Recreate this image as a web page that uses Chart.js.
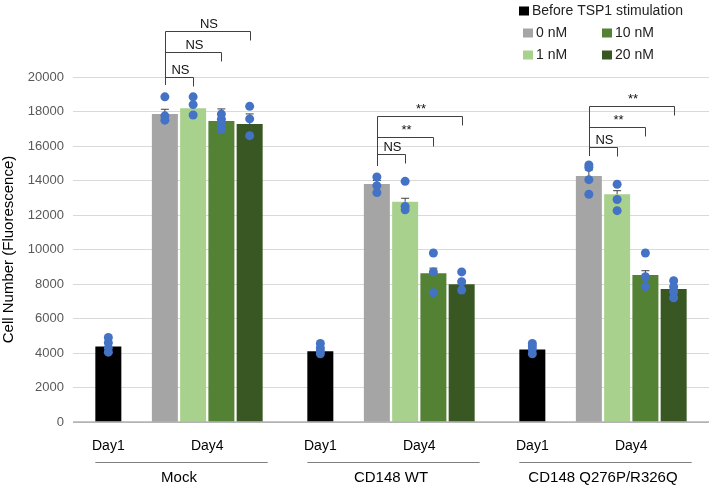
<!DOCTYPE html>
<html>
<head>
<meta charset="utf-8">
<script src="https://cdn.jsdelivr.net/npm/chart.js@4"></script>
<style>
  html, body { margin: 0; padding: 0; background: #fff; }
  #wrap { position: relative; width: 709px; height: 486px; }
</style>
</head>
<body>
<div id="wrap"><canvas id="chart"></canvas></div>
<script>
// groups along the x axis
const groups = ['Mock', 'CD148 WT', 'CD148 Q276P/R326Q'];
const dayLabels = ['Day1', 'Day4'];
const seriesNames = ['Before TSP1 stimulation', '0 nM', '1 nM', '10 nM', '20 nM'];
const seriesColors = ['#000000', '#a5a5a5', '#a9d18e', '#548235', '#385723'];

// bar heights (means)
const before = [4370, 4100, 4200];
const nm0 = [17860, 13800, 14260];
const nm1 = [18190, 12770, 13200];
const nm10 = [17450, 8620, 8520];
const nm20 = [17280, 7980, 7710];

// error bars (plus side)
const beforeErr = [180, 150, 150];
const nm0Err = [270, 200, 350];
const nm1Err = [150, 200, 210];
const nm10Err = [700, 300, 250];
const nm20Err = [580, 200, 150];

// single measurements (blue dots)
const beforePts = [[4900, 4600, 4300, 4050], [4550, 4300, 4100, 3950], [4550, 4400, 4200, 3950]];
const nm0Pts = [[18850, 17750, 17500], [14200, 13700, 13300], [14900, 14750, 14050, 13200]];
const nm1Pts = [[18850, 18400, 17800], [13950, 12500, 12300], [13780, 12900, 12250]];
const nm10Pts = [[17850, 17550, 17280, 16950], [9800, 8700, 7500], [9800, 8420, 7850]];
const nm20Pts = [[18300, 17570, 16600], [8700, 8130, 7650], [8190, 7840, 7550, 7200]];

// significance brackets: 0 nM vs 1, 10, 20 nM
const sigLabels = [['NS', 'NS', 'NS'], ['NS', '**', '**'], ['NS', '**', '**']];
const bracketHeights = [[20020, 21470, 22690], [15520, 16540, 17740], [15920, 17120, 18340]];
const bracketBase = [19540, 14840, 15420];

const yMin = 0;
const yMax = 20000;
const yStep = 2000;

const means = [before, nm0, nm1, nm10, nm20];
const errs = [beforeErr, nm0Err, nm1Err, nm10Err, nm20Err];
const pts = [beforePts, nm0Pts, nm1Pts, nm10Pts, nm20Pts];

// dataset 1 is an empty slot between Day1 and Day4
const datasetIndex = s => (s === 0 ? 0 : s + 1);

const datasets = [];
means.forEach((values, s) => {
  datasets.push({
    label: seriesNames[s],
    data: values,
    backgroundColor: seriesColors[s]
  });
  if (s === 0) {
    datasets.push({ label: '', data: groups.map(() => null), backgroundColor: 'transparent' });
  }
});

const FONT = '"Liberation Sans", Arial, sans-serif';

const overlay = {
  id: 'overlay',
  afterDatasetsDraw(chart) {
    const ctx = chart.ctx;
    const area = chart.chartArea;
    const y = chart.scales.y;
    const barOf = (s, g) => chart.getDatasetMeta(datasetIndex(s)).data[g];

    ctx.save();

    // axis line on top of bars
    ctx.strokeStyle = 'rgba(150,150,150,0.55)';
    ctx.lineWidth = 2;
    ctx.beginPath();
    ctx.moveTo(area.left, area.bottom);
    ctx.lineTo(area.right, area.bottom);
    ctx.stroke();

    // error bars
    ctx.strokeStyle = '#404040';
    ctx.lineWidth = 1;
    means.forEach((values, s) => {
      values.forEach((v, g) => {
        const bar = barOf(s, g);
        const top = y.getPixelForValue(v + errs[s][g]);
        ctx.beginPath();
        ctx.moveTo(bar.x, bar.y);
        ctx.lineTo(bar.x, top);
        ctx.moveTo(bar.x - 4, top);
        ctx.lineTo(bar.x + 4, top);
        ctx.stroke();
      });
    });

    // dots
    ctx.fillStyle = '#4472c4';
    pts.forEach((series, s) => {
      series.forEach((list, g) => {
        const bar = barOf(s, g);
        list.forEach(v => {
          ctx.beginPath();
          ctx.arc(bar.x, y.getPixelForValue(v), 4.5, 0, Math.PI * 2);
          ctx.fill();
        });
      });
    });

    // Day labels and underline
    ctx.fillStyle = '#000';
    ctx.font = '14px ' + FONT;
    ctx.textAlign = 'center';
    ctx.textBaseline = 'middle';
    groups.forEach((name, g) => {
      const b0 = barOf(0, g);
      const b1 = barOf(1, g);
      const b4 = barOf(4, g);
      ctx.fillText(dayLabels[0], b0.x, area.bottom + 24);
      ctx.fillText(dayLabels[1], (b1.x + b4.x) / 2, area.bottom + 24);
      ctx.strokeStyle = '#7f7f7f';
      ctx.lineWidth = 1;
      ctx.beginPath();
      ctx.moveTo(b0.x - b0.width / 2, area.bottom + 40.5);
      ctx.lineTo(b4.x + b4.width / 2 + 5, area.bottom + 40.5);
      ctx.stroke();
    });

    // significance brackets
    ctx.strokeStyle = '#404040';
    ctx.lineWidth = 1;
    ctx.font = '13px ' + FONT;
    ctx.textBaseline = 'alphabetic';
    groups.forEach((name, g) => {
      const lx = Math.round(barOf(1, g).x) + 0.5;
      const base = y.getPixelForValue(bracketBase[g]);
      bracketHeights[g].forEach((h, k) => {
        const rx = Math.round(barOf(k + 2, g).x) + 0.5;
        const ty = Math.round(y.getPixelForValue(h)) + 0.5;
        ctx.beginPath();
        ctx.moveTo(lx, base);
        ctx.lineTo(lx, ty);
        ctx.lineTo(rx, ty);
        ctx.lineTo(rx, ty + 9);
        ctx.stroke();
        ctx.fillStyle = '#111';
        ctx.fillText(sigLabels[g][k], (lx + rx) / 2 + 1, ty - 4);
      });
    });

    // legend
    const legendPos = [[519, 11], [523, 33], [523, 55], [602, 33], [602, 55]];
    ctx.font = '14px ' + FONT;
    ctx.textAlign = 'left';
    ctx.textBaseline = 'middle';
    seriesNames.forEach((label, s) => {
      const [lx, ly] = legendPos[s];
      ctx.fillStyle = seriesColors[s];
      ctx.fillRect(lx, ly - 4.5, 10, 9);
      ctx.fillStyle = '#222';
      ctx.fillText(label, lx + 13, ly + 0.5);
    });

    ctx.restore();
  }
};

new Chart(document.getElementById('chart'), {
  type: 'bar',
  data: {
    labels: groups,
    datasets: datasets
  },
  options: {
    responsive: true,
    maintainAspectRatio: false,
    animation: false,
    datasets: {
      bar: {
        categoryPercentage: 0.8,
        barPercentage: 0.92
      }
    },
    layout: {
      padding: { top: 77, left: 0, right: 0, bottom: 0 }
    },
    scales: {
      x: {
        grid: { display: false },
        border: { display: false },
        ticks: {
          color: '#000',
          font: { family: FONT, size: 15 },
          padding: 39,
          maxRotation: 0
        },
        afterFit(scale) {
          scale.height = 64;
          scale.paddingLeft = 0;
          scale.paddingRight = 0;
        }
      },
      y: {
        min: yMin,
        max: yMax,
        border: { display: false },
        grid: { color: '#d9d9d9', drawTicks: false },
        ticks: {
          stepSize: yStep,
          color: '#595959',
          font: { family: FONT, size: 13 },
          padding: 9,
          callback: v => String(v)
        },
        title: {
          display: true,
          text: 'Cell Number (Fluorescence)',
          color: '#000',
          font: { family: FONT, size: 15 },
          padding: 0
        },
        afterFit(scale) {
          scale.width = 73;
        }
      }
    },
    plugins: {
      legend: { display: false },
      tooltip: { enabled: false }
    }
  },
  plugins: [overlay]
});
</script>
</body>
</html>
